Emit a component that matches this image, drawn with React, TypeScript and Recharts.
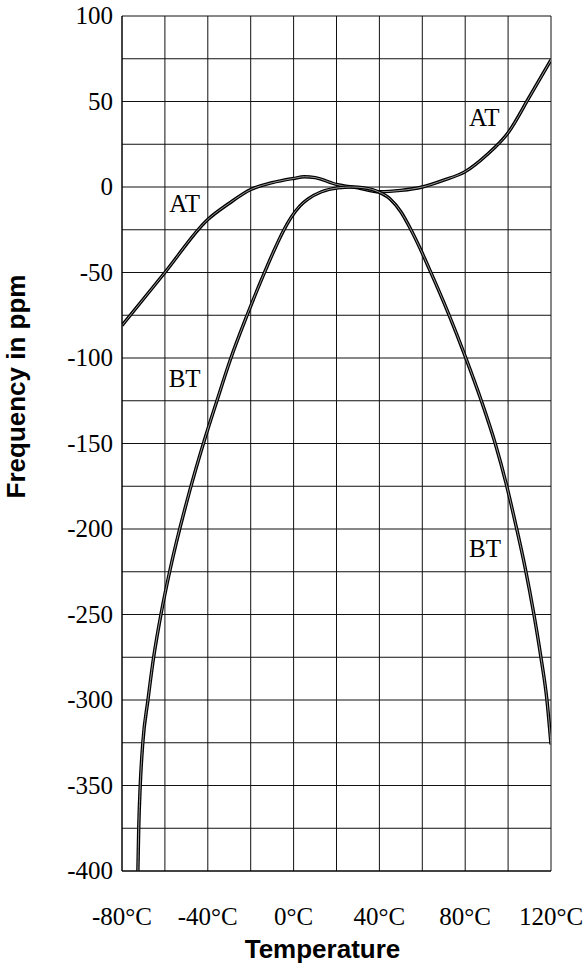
import { CartesianGrid, Label, Line, LineChart, ReferenceDot, XAxis, YAxis } from 'recharts'

// temperature (°C) -> frequency deviation (ppm)
const atPoints: [number, number][] = [
  [-80, -81], [-60, -50], [-40, -19], [-30, -9.5], [-20, -1.5], [-10, 2.5],
  [0, 5], [5, 6], [10, 5.5], [20, 1.5], [30, -0.5], [40, -2.8], [50, -2],
  [60, 0], [70, 4], [80, 9], [90, 18.7], [100, 31.7], [110, 52.8], [120, 74.3],
]

const btPoints: [number, number][] = [
  [-72.6, -400], [-72.2, -375], [-71.5, -350], [-70.3, -325], [-67.9, -300],
  [-65.6, -278], [-61.7, -249], [-57.8, -225], [-48.5, -178], [-42.3, -151],
  [-36, -126], [-29.5, -101], [-21.7, -75], [-13.9, -51], [-9.6, -38.5],
  [-4.9, -26], [-1, -17.5], [3, -11], [6.8, -7], [13, -2.8], [20.8, -0.5],
  [27, 0], [33, -0.5], [39.5, -2.8], [45, -7], [50, -14.5], [54.3, -24],
  [59, -36], [63.3, -48], [72.2, -74], [80, -99], [87.8, -126], [94, -150],
  [99, -173], [103.3, -196], [108, -223], [111.9, -249], [115.3, -275],
  [118.1, -300], [120, -326],
]

const xTicks = [-80, -60, -40, -20, 0, 20, 40, 60, 80, 100, 120]
const yTicks = [
  100, 75, 50, 25, 0, -25, -50, -75, -100, -125, -150, -175, -200, -225,
  -250, -275, -300, -325, -350, -375, -400,
]

const curveLabels = [
  { text: 'AT', t: -50.8, ppm: -9.6 },
  { text: 'AT', t: 88.9, ppm: 40.8 },
  { text: 'BT', t: -50.8, ppm: -111.5 },
  { text: 'BT', t: 89.2, ppm: -210.9 },
]

const toRows = (pts: [number, number][]) => pts.map(([t, ppm]) => ({ t, ppm }))
const atData = toRows(atPoints)
const btData = toRows(btPoints)

const serif = 'Liberation Serif, Times New Roman, serif'
const sans = 'Liberation Sans, Arial, sans-serif'

function XTick({ x, y, payload }: any) {
  const v = payload.value as number
  if (v % 40 !== 0) return null
  return (
    <text x={x} y={y + 52} textAnchor="middle" fontFamily={serif} fontSize={25} fill="#000">
      {`${v}°C`}
    </text>
  )
}

function YTick({ x, y, payload }: any) {
  const v = payload.value as number
  if (v % 50 !== 0) return null
  return (
    <text x={x - 7} y={y + 8} textAnchor="end" fontFamily={serif} fontSize={25} fill="#000">
      {String(v)}
    </text>
  )
}

export default function App() {
  return (
    <div style={{ position: 'absolute', left: 0, top: 0, background: '#fff' }}>
      <LineChart width={584} height={966} margin={{ top: 16, right: 33, left: 0, bottom: 0 }}>
        <CartesianGrid stroke="#111" strokeWidth={1} />
        <XAxis
          type="number"
          dataKey="t"
          domain={[-80, 120]}
          ticks={xTicks}
          allowDataOverflow
          height={95}
          tickSize={0}
          tickLine={false}
          axisLine={{ stroke: '#000' }}
          tick={<XTick />}
          interval={0}
        >
          <Label
            content={({ viewBox }: any) => (
              <text
                x={viewBox.x + viewBox.width / 2 - 14}
                y={958}
                textAnchor="middle"
                fontFamily={sans}
                fontWeight="bold"
                fontSize={26}
                fill="#000"
              >
                Temperature
              </text>
            )}
          />
        </XAxis>
        <YAxis
          type="number"
          domain={[-400, 100]}
          ticks={yTicks}
          allowDataOverflow
          width={122}
          tickSize={0}
          tickLine={false}
          axisLine={{ stroke: '#000' }}
          tick={<YTick />}
          interval={0}
        >
          <Label
            content={({ viewBox }: any) => {
              const cx = 25
              const cy = viewBox.y + viewBox.height / 2 - 57
              return (
                <text
                  x={cx}
                  y={cy}
                  transform={`rotate(-90 ${cx} ${cy})`}
                  textAnchor="middle"
                  fontFamily={sans}
                  fontWeight="bold"
                  fontSize={26}
                  fill="#000"
                >
                  Frequency in ppm
                </text>
              )
            }}
          />
        </YAxis>

        {/* each curve is a dark band with a light core, like the printed original */}
        <Line data={atData} dataKey="ppm" type="monotone" stroke="#000" strokeWidth={3.4} dot={false} activeDot={false} isAnimationActive={false} />
        <Line data={atData} dataKey="ppm" type="monotone" stroke="#999" strokeWidth={1} dot={false} activeDot={false} isAnimationActive={false} />
        <Line data={btData} dataKey="ppm" type="monotone" stroke="#000" strokeWidth={3.4} dot={false} activeDot={false} isAnimationActive={false} />
        <Line data={btData} dataKey="ppm" type="monotone" stroke="#999" strokeWidth={1} dot={false} activeDot={false} isAnimationActive={false} />

        {curveLabels.map((c, i) => (
          <ReferenceDot
            key={i}
            x={c.t}
            y={c.ppm}
            r={1}
            fill="none"
            stroke="none"
            label={{ value: c.text, position: 'center', fill: '#000', fontSize: 25, fontFamily: serif }}
          />
        ))}
      </LineChart>
    </div>
  )
}
